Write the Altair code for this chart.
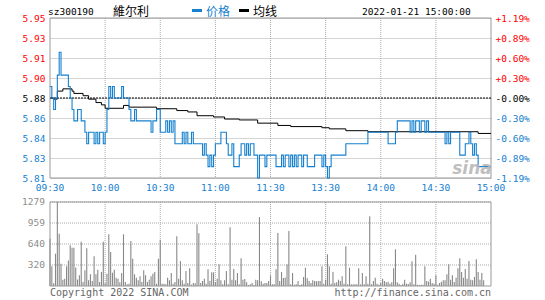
import json
import altair as alt
import pandas as pd

# ---------------- data ----------------
stock_code = "sz300190"
stock_name = "維尔利"
stamp = "2022-01-21 15:00:00"
prev_close = 5.88
max_pct = 1.19
vol_max = 1279

time_ticks = [0, 30, 60, 90, 120, 150, 180, 210, 240]
time_labels = ["09:30", "10:00", "10:30", "11:00", "11:30", "13:30", "14:00", "14:30", "15:00"]
price_labels = ["5.81", "5.83", "5.84", "5.86", "5.88", "5.90", "5.91", "5.93", "5.95"]
pct_labels = ["-1.19%", "-0.89%", "-0.60%", "-0.30%", "-0.00%", "+0.30%", "+0.60%", "+0.89%", "+1.19%"]
vol_labels = ["320", "640", "959", "1279"]

# (minute index, price) at each price change
price_steps = [
    (0, 5.89), (1, 5.88), (2, 5.87), (3, 5.88), (4, 5.90), (5, 5.92), (6, 5.90), (10, 5.89),
    (11, 5.88), (12, 5.87), (13, 5.86), (15, 5.87), (17, 5.86), (19, 5.85), (20, 5.84), (21, 5.85),
    (24, 5.84), (25, 5.85), (26, 5.84), (27, 5.85), (29, 5.84), (30, 5.85), (31, 5.87), (32, 5.89),
    (33, 5.88), (34, 5.89), (35, 5.88), (39, 5.89), (40, 5.88), (43, 5.87), (44, 5.86), (46, 5.87),
    (47, 5.86), (55, 5.85), (56, 5.86), (58, 5.87), (60, 5.85), (63, 5.86), (64, 5.85), (65, 5.86),
    (66, 5.85), (67, 5.86), (68, 5.84), (72, 5.85), (73, 5.84), (74, 5.85), (75, 5.84), (77, 5.85),
    (78, 5.84), (83, 5.83), (84, 5.84), (85, 5.83), (86, 5.82), (87, 5.83), (88, 5.82), (89, 5.83),
    (90, 5.84), (93, 5.85), (96, 5.84), (97, 5.83), (99, 5.84), (100, 5.82), (103, 5.83), (104, 5.84),
    (106, 5.83), (107, 5.84), (108, 5.83), (109, 5.84), (111, 5.83), (113, 5.81), (114, 5.83), (117, 5.82),
    (118, 5.83), (123, 5.82), (126, 5.83), (127, 5.82), (128, 5.83), (130, 5.82), (131, 5.83), (132, 5.82),
    (133, 5.83), (134, 5.82), (135, 5.83), (137, 5.82), (138, 5.83), (140, 5.82), (144, 5.83), (148, 5.82),
    (149, 5.83), (150, 5.82), (151, 5.81), (152, 5.82), (153, 5.83), (161, 5.84), (173, 5.85), (184, 5.84),
    (188, 5.85), (189, 5.86), (196, 5.85), (197, 5.86), (198, 5.85), (199, 5.86), (201, 5.85), (202, 5.86),
    (204, 5.85), (205, 5.86), (206, 5.85), (215, 5.84), (216, 5.85), (217, 5.84), (218, 5.85), (223, 5.83),
    (226, 5.84), (228, 5.85), (229, 5.84), (230, 5.83), (231, 5.84), (232, 5.83), (233, 5.82), (240, 5.82),
]

# (minute index, average price) at each change of the average line
avg_steps = [
    (0, 5.880), (2, 5.879), (4, 5.886), (7, 5.888), (12, 5.886), (13, 5.884), (18, 5.882), (21, 5.879),
    (25, 5.876), (28, 5.874), (30, 5.871), (40, 5.8735), (43, 5.872), (58, 5.8706), (69, 5.869),
    (75, 5.8678), (80, 5.8645), (89, 5.8634), (95, 5.8616), (103, 5.8608), (113, 5.858), (124, 5.856),
    (131, 5.855), (148, 5.854), (152, 5.853), (161, 5.8514), (173, 5.8505), (233, 5.849), (240, 5.849),
]

volume = [
    721, 300, 40, 492, 1279, 797, 340, 96, 112, 300, 390, 619, 584, 584, 280, 100, 162, 675, 60, 238,
    573, 86, 178, 76, 452, 178, 249, 61, 213, 675, 40, 188, 787, 518, 203, 249, 127, 112, 56, 198,
    787, 61, 25, 35, 685, 416, 178, 127, 86, 147, 61, 238, 162, 61, 96, 147, 188, 213, 35, 416,
    705, 35, 36, 25, 127, 86, 198, 36, 61, 756, 112, 380, 86, 36, 228, 46, 269, 20, 46, 40,
    939, 802, 46, 76, 112, 36, 254, 76, 208, 208, 61, 112, 330, 86, 25, 86, 228, 25, 893, 96,
    259, 86, 198, 25, 421, 96, 107, 56, 15, 25, 46, 15, 96, 86, 1050, 71, 36, 46, 46, 76,
    162, 25, 25, 254, 807, 76, 213, 122, 130, 330, 837, 25, 198, 20, 25, 76, 15, 25, 137, 279,
    117, 76, 46, 86, 76, 71, 76, 76, 300, 36, 96, 482, 300, 36, 213, 46, 56, 96, 76, 147,
    36, 604, 25, 279, 25, 25, 25, 25, 269, 25, 198, 25, 147, 36, 1061, 25, 76, 127, 36, 20,
    46, 112, 76, 56, 66, 36, 56, 269, 558, 56, 36, 15, 36, 96, 36, 30, 56, 376, 25, 477,
    20, 15, 20, 20, 300, 76, 66, 112, 46, 36, 162, 20, 46, 66, 86, 86, 178, 330, 96, 162,
    61, 127, 269, 421, 213, 127, 259, 112, 380, 96, 86, 137, 406, 213, 96, 198, 86,
]

# ---------------- styles ----------------
BLUE = "#1580cf"
RED = "#ff0000"
GRID = "#aaaaaa"
FRAME = "#999999"
BAR = "#888888"
MONO = "DejaVu Sans Mono"
CJK = "Noto Sans CJK SC"

W, H = 441, 268
PRICE_H = 160
VOL_TOP, VOL_BOT = 184, 268

price_lo = prev_close * (1 - max_pct / 100)
price_hi = prev_close * (1 + max_pct / 100)
price_ticks = [prev_close * (1 + max_pct / 100 * (k - 4) / 4) for k in range(9)]
vol_ticks = [vol_max * k / 4 for k in range(1, 5)]

df_price = pd.DataFrame(price_steps, columns=["m", "p"])
df_avg = pd.DataFrame(avg_steps, columns=["m", "p"])
df_vol = pd.DataFrame({"m": list(range(len(volume))), "v": volume})
df_vgrid = pd.DataFrame({"m": time_ticks[1:-1]})
df_time = pd.DataFrame({"m": time_ticks, "t": time_labels})
df_voltick = pd.DataFrame({"v": vol_ticks, "t": vol_labels})
df_zero = pd.DataFrame({"p": [prev_close]})
dummy = pd.DataFrame({"a": [0]})

x_scale = alt.Scale(domain=[0, 240], nice=False, zero=False)
yp_scale = alt.Scale(domain=[price_lo, price_hi], range=[PRICE_H, 0], nice=False, zero=False)
yv_scale = alt.Scale(domain=[0, vol_max], range=[VOL_BOT, VOL_TOP], nice=False, zero=True)

price_idx = f"round((datum.value / {prev_close} - 1) * 400 / {max_pct}) + 4"
label_color = {
    "condition": [
        {"test": f"datum.value > {prev_close + 0.001}", "value": RED},
        {"test": f"datum.value < {prev_close - 0.001}", "value": BLUE},
    ],
    "value": "#000000",
}

left_axis = alt.Axis(
    values=price_ticks, labelExpr=f"{json.dumps(price_labels)}[{price_idx}]", orient="left",
    domain=False, ticks=False, tickSize=0, grid=True, gridColor=GRID, gridDash=[1, 1],
    labelColor=label_color, labelFont=MONO, labelFontSize=9.5, labelPadding=5,
    labelFlush=False, labelOverlap=False, labelBaseline="middle", title=None,
)
right_axis = alt.Axis(
    values=price_ticks, labelExpr=f"{json.dumps(pct_labels)}[{price_idx}]", orient="right",
    domain=False, ticks=False, tickSize=0, grid=False,
    labelColor=label_color, labelFont=MONO, labelFontSize=9.5, labelPadding=4,
    labelFlush=False, labelOverlap=False, labelBaseline="middle", title=None,
)

X_NONE = dict(scale=x_scale, axis=None)

# ---------------- price panel ----------------
p_vgrid = alt.Chart(df_vgrid).mark_rule(color=GRID, strokeDash=[1, 1], strokeWidth=1).encode(
    x=alt.X("m:Q", **X_NONE), y=alt.value(0), y2=alt.value(PRICE_H)
)
p_frame = alt.Chart(dummy).mark_rect(filled=False, stroke=FRAME, strokeWidth=1).encode(
    x=alt.XDatum(0, **X_NONE), x2=alt.X2Datum(240),
    y=alt.YDatum(price_lo, scale=yp_scale, axis=None), y2=alt.Y2Datum(price_hi),
)
p_zero = alt.Chart(df_zero).mark_rule(color="black", strokeDash=[2, 1], strokeWidth=1).encode(
    y=alt.Y("p:Q", scale=yp_scale, axis=right_axis)
)
p_avg = alt.Chart(df_avg).mark_line(color="black", strokeWidth=1, interpolate="step-after").encode(
    x=alt.X("m:Q", **X_NONE), y=alt.Y("p:Q", scale=yp_scale, axis=None)
)
p_line = alt.Chart(df_price).mark_line(color=BLUE, strokeWidth=1.1, interpolate="step-after").encode(
    x=alt.X("m:Q", **X_NONE), y=alt.Y("p:Q", scale=yp_scale, axis=left_axis)
)
t_labels = alt.Chart(df_time).mark_text(
    baseline="top", align="center", color=BLUE, font=MONO, fontSize=9.5
).encode(x=alt.X("m:Q", **X_NONE), y=alt.value(PRICE_H + 5), text="t:N")

# ---------------- volume panel ----------------
v_vgrid = alt.Chart(df_vgrid).mark_rule(color=GRID, strokeDash=[1, 1], strokeWidth=1).encode(
    x=alt.X("m:Q", **X_NONE), y=alt.value(VOL_TOP), y2=alt.value(VOL_BOT)
)
v_hgrid = alt.Chart(df_voltick).mark_rule(color=GRID, strokeDash=[1, 1], strokeWidth=1).encode(
    y=alt.Y("v:Q", scale=yv_scale, axis=None)
)
v_labels = alt.Chart(df_voltick).mark_text(
    align="right", baseline="middle", color="#8c8c8c", font=MONO, fontSize=9.5
).encode(y=alt.Y("v:Q", scale=yv_scale, axis=None), x=alt.value(-5), text="t:N")
v_bars = alt.Chart(df_vol).mark_rule(color=BAR, strokeWidth=1.1).encode(
    x=alt.X("m:Q", **X_NONE),
    y=alt.Y("v:Q", scale=yv_scale, axis=None),
    y2=alt.Y2Datum(0),
)
v_frame = alt.Chart(dummy).mark_rect(filled=False, stroke=FRAME, strokeWidth=1).encode(
    x=alt.XDatum(0, **X_NONE), x2=alt.X2Datum(240),
    y=alt.YDatum(0, scale=yv_scale, axis=None), y2=alt.Y2Datum(vol_max),
)


# ---------------- header / footer texts ----------------
def text(t, x, y, color="black", size=9.5, font=MONO, align="left", **kw):
    return alt.Chart(dummy).mark_text(
        text=t, align=align, baseline="alphabetic", color=color, fontSize=size, font=font, **kw
    ).encode(x=alt.value(x), y=alt.value(y))


def dash(x1, x2, y, color):
    return alt.Chart(dummy).mark_rule(color=color, strokeWidth=3).encode(
        x=alt.value(x1), x2=alt.value(x2), y=alt.value(y)
    )


texts = [
    text(stock_code, -2, -3),
    text(stock_name, 63, -2.5, size=12, font=CJK),
    dash(142, 152, -7.5, BLUE),
    text("价格", 156, -2.5, color=BLUE, size=12, font=CJK),
    dash(189, 199, -7.5, "black"),
    text("均线", 203, -2.5, size=12, font=CJK),
    text(stamp, 312, -3),
    text("sina", 422, 156, color="#b5b5b5", size=17, font="DejaVu Sans", align="center",
         fontStyle="italic", fontWeight="bold", opacity=0.85),
    text("Copyright 2022 SINA.COM", 0, 278, color="#666666", size=10),
    text("http://finance.sina.com.cn", W, 278, color="#666666", size=10, align="right"),
]

chart = (
    alt.layer(
        p_vgrid, p_frame, p_zero, p_avg, p_line, t_labels,
        v_vgrid, v_hgrid, v_labels, v_bars, v_frame,
        *texts,
    )
    .resolve_scale(y="independent")
    .properties(
        width=W, height=H,
        autosize=alt.AutoSizeParams(type="none"),
        padding={"left": 50, "top": 18, "right": 54, "bottom": 14},
        background="white",
    )
    .configure_view(strokeWidth=0)
)

chart.save("out.html", embed_options={"renderer": "svg", "actions": False})
